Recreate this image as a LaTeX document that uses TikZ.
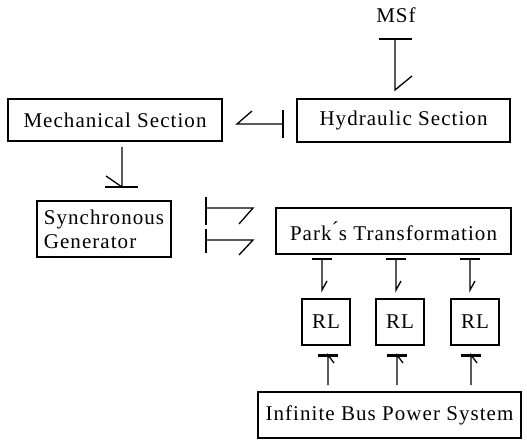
\documentclass[tikz,border=0pt]{standalone}
\usepackage{fontspec}
\setmainfont{Liberation Serif}[LetterSpace=5]
\begin{document}
\begin{tikzpicture}[x=1bp,y=-1bp,
  box/.style={draw,line width=1.3bp,inner sep=0pt,font=\fontsize{21bp}{24bp}\selectfont},
  lbl/.style={inner sep=0pt,font=\fontsize{21bp}{24bp}\selectfont},
  bond/.style={line width=1.3bp},
  bar/.style={line width=1.3bp},
  thickbar/.style={line width=3bp}]
\useasboundingbox (0,0) rectangle (527,440);
% nodes
\node[lbl] (msf) at (396,15) {MSf};
\node[box,minimum width=214bp,minimum height=42bp] (mech) at (115,120) {Mechanical Section};
\node[box,minimum width=213bp,minimum height=43bp] (hyd) at (403.5,120.5) {Hydraulic Section};
\node[box,minimum width=134bp,minimum height=56bp,align=left] (sg) at (104,229) {Synchronous\\Generator};
\node[box,minimum width=235bp,minimum height=46bp] (park) at (393.5,231) {Park\'{}s Transformation};
\node[box,minimum width=48bp,minimum height=46bp] (rl1) at (326,322) {RL};
\node[box,minimum width=48bp,minimum height=46bp] (rl2) at (400,322) {RL};
\node[box,minimum width=48bp,minimum height=46bp] (rl3) at (475,322) {RL};
\node[box,minimum width=263bp,minimum height=46bp] (bus) at (389.5,415) {Infinite Bus Power System};
% MSf -> Hydraulic
\coordinate (a1) at (395,39); \coordinate (a2) at (395,90);
\draw[bar] ([xshift=-16.5bp]a1) -- ([xshift=16.5bp]a1);
\draw[bond] (a1) -- (a2) -- ++(17,-14);
% Hydraulic -> Mechanical
\coordinate (b1) at (283,124); \coordinate (b2) at (237,124);
\draw[bar] ([yshift=14bp]b1) -- ([yshift=-14bp]b1);
\draw[bond] (b1) -- (b2) -- ++(15,-13);
% Mechanical -> Synchronous Generator
\coordinate (c1) at (122,147); \coordinate (c2) at (122,187);
\draw[bar] ([xshift=-17bp]c2) -- ([xshift=16bp]c2);
\draw[bond] (c1) -- (c2) -- ++(-16,-11);
% Synchronous Generator -> Park
\coordinate (d1) at (206,208); \coordinate (d2) at (253,208);
\draw[bar] (206,197) -- (206,225);
\draw[bond] (d1) -- (d2) -- ++(-14,16);
\coordinate (e1) at (206,240); \coordinate (e2) at (253,240);
\draw[bar] (206,229) -- (206,253);
\draw[bond] (e1) -- (e2) -- ++(-14,15);
% Park -> RL
\foreach \i/\x in {1/322,2/396,3/470}{
  \coordinate (f\i) at (\x,259); \coordinate (g\i) at (\x,290);
  \draw[bar] ([xshift=-10bp]f\i) -- ([xshift=10bp]f\i);
  \draw[bond] (f\i) -- (g\i) -- ++(5,-9);
}
% Bus -> RL
\foreach \i/\x in {1/328,2/397,3/471}{
  \coordinate (h\i) at (\x,385); \coordinate (k\i) at (\x,355);
  \draw[thickbar] ([xshift=-10bp]k\i) -- ([xshift=10bp]k\i);
  \draw[bond] (h\i) -- (k\i) -- ++(6,8);
}
\end{tikzpicture}
\end{document}
